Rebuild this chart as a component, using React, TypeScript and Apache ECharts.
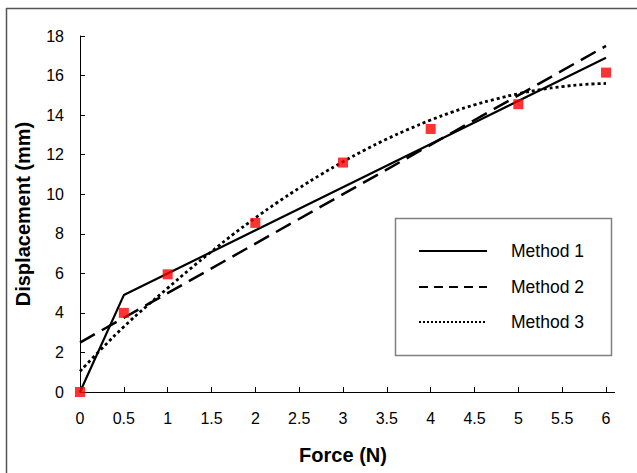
import React, { useEffect, useRef } from "react";
import * as echarts from "echarts";

const xTicks = { min: 0, max: 6, interval: 0.5 };
const yTicks = { min: 0, max: 18, interval: 2 };

const measuredX = [0, 0.5, 1, 2, 3, 4, 5, 6];
const measuredY = [0, 4.0, 5.95, 8.55, 11.6, 13.3, 14.55, 16.15];

const method1X = [0, 0.5, 6];
const method1Y = [0, 4.9, 16.9];

const method2X = [0, 6];
const method2Y = [2.5, 17.5];

const method3X = [0, 0.25, 0.5, 0.75, 1, 1.25, 1.5, 1.75, 2, 2.25, 2.5, 2.75, 3, 3.25, 3.5, 3.75, 4, 4.25, 4.5, 4.75, 5, 5.25, 5.5, 5.75, 6];
const method3Y = [1.05, 2.2, 3.3, 4.3, 5.25, 6.2, 7.1, 7.98, 8.8, 9.58, 10.31, 11.0, 11.64, 12.24, 12.79, 13.29, 13.75, 14.16, 14.52, 14.82, 15.08, 15.29, 15.44, 15.55, 15.6];

const legendNames = ["Method 1", "Method 2", "Method 3"];

const FONT = "Arial, 'Liberation Sans', Helvetica, sans-serif";

const zip = (xs: number[], ys: number[]) => xs.map((x, i) => [x, ys[i]]);

export default function App() {
  const ref = useRef<HTMLDivElement>(null);
  useEffect(() => {
    document.body.style.margin = "0";
    if (!ref.current) return;
    const chart = echarts.init(ref.current, null, { renderer: "svg" });
    const dashes = [null, [9, 6], [2, 2]];
    const legendGraphics: any[] = [
      {
        type: "rect",
        shape: { x: 395.5, y: 218.5, width: 216, height: 137 },
        style: { fill: "#fff", stroke: "#808080", lineWidth: 1.5 },
        z: 10,
      },
    ];
    const rowsY = [251, 287, 322];
    legendNames.forEach((name, i) => {
      legendGraphics.push({
        type: "line",
        shape: { x1: 419, y1: rowsY[i], x2: 487, y2: rowsY[i] },
        style: {
          stroke: "#000",
          lineWidth: 2,
          lineDash: dashes[i] || undefined,
        },
        z: 11,
      });
      legendGraphics.push({
        type: "text",
        x: 511,
        y: rowsY[i],
        style: {
          text: name,
          font: `17.5px ${FONT}`,
          fill: "#000",
          verticalAlign: "middle",
        },
        z: 11,
      });
    });
    chart.setOption({
      animation: false,
      backgroundColor: "#fff",
      grid: { left: 80, top: 36, right: 31, bottom: 81, containLabel: false, outerBoundsMode: "none" },
      xAxis: {
        type: "value",
        min: xTicks.min,
        max: xTicks.max,
        interval: xTicks.interval,
        name: "Force (N)",
        nameLocation: "middle",
        nameGap: 53,
        nameMoveOverlap: false,
        nameTextStyle: { fontFamily: FONT, fontWeight: "bold", fontSize: 20, color: "#000" },
        axisLine: { lineStyle: { color: "#000", width: 1 } },
        axisTick: { inside: true, length: 5, lineStyle: { color: "#000" } },
        axisLabel: { fontFamily: FONT, fontSize: 16, color: "#000", margin: 18 },
        splitLine: { show: false },
      },
      yAxis: {
        type: "value",
        min: yTicks.min,
        max: yTicks.max,
        interval: yTicks.interval,
        name: "Displacement (mm)",
        nameLocation: "middle",
        nameGap: 47,
        nameMoveOverlap: false,
        nameTextStyle: { fontFamily: FONT, fontWeight: "bold", fontSize: 20, color: "#000" },
        axisLine: { show: true, lineStyle: { color: "#000", width: 1 } },
        axisTick: { show: true, inside: true, length: 5, lineStyle: { color: "#000" } },
        axisLabel: { fontFamily: FONT, fontSize: 16, color: "#000", margin: 16 },
        splitLine: { show: false },
      },
      series: [
        {
          name: "Method 1",
          type: "line",
          data: zip(method1X, method1Y),
          showSymbol: false,
          lineStyle: { color: "#000", width: 2.2 },
          z: 3,
        },
        {
          name: "Method 2",
          type: "line",
          data: zip(method2X, method2Y),
          showSymbol: false,
          lineStyle: { color: "#000", width: 2.5, type: [17, 8] },
          z: 3,
        },
        {
          name: "Method 3",
          type: "line",
          data: zip(method3X, method3Y),
          showSymbol: false,
          smooth: true,
          lineStyle: { color: "#000", width: 2.8, type: [3, 3] },
          z: 3,
        },
        {
          name: "Measured",
          type: "scatter",
          data: zip(measuredX, measuredY),
          symbol: "rect",
          symbolSize: 10,
          itemStyle: { color: "#ff0000" },
          z: 5,
        },
      ],
      graphic: [
        {
          type: "line",
          shape: { x1: 6.5, y1: 8, x2: 6.5, y2: 473 },
          style: { stroke: "#555", lineWidth: 1.5 },
        },
        {
          type: "line",
          shape: { x1: 6, y1: 8.5, x2: 637, y2: 8.5 },
          style: { stroke: "#555", lineWidth: 1.5 },
        },
        {
          type: "line",
          shape: { x1: 606, y1: 392.5, x2: 615, y2: 392.5 },
          style: { stroke: "#000", lineWidth: 1 },
        },
        ...legendGraphics,
      ],
    });
    return () => chart.dispose();
  }, []);
  return <div ref={ref} style={{ width: 637, height: 473 }} />;
}
